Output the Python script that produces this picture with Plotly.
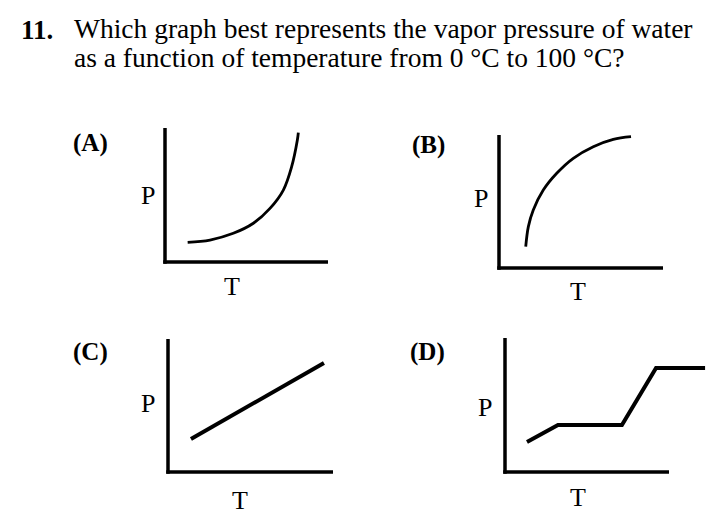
import plotly.graph_objects as go

W, H = 726, 524

# ---- data (T, P in arbitrary 0-100 axis units) ----
a_T = [13.9, 27.6, 41.9, 54.2, 64.4, 72.6, 77.7, 81.2, 81.8]
a_P = [14.7, 16.4, 21.4, 28.9, 40.0, 53.7, 71.1, 91.0, 96.5]
b_T = [16.3, 17.9, 20.9, 27.0, 35.2, 45.3, 57.5, 69.7, 80.5]
b_P = [16.0, 31.1, 43.6, 58.6, 71.2, 82.5, 91.2, 96.7, 98.7]
c_T = [13.9, 94.5]
c_P = [24.8, 82.0]
d_T = [13.4, 32.3, 71.3, 92.1, 122.0]
d_P = [22.4, 35.1, 35.1, 77.6, 77.6]

question_num = "11."
question_lines = ["Which graph best represents the vapor pressure of water",
                  "as a function of temperature from 0 °C to 100 °C?"]
panel_labels = ["(A)", "(B)", "(C)", "(D)"]
x_label = "T"
y_label = "P"

AX_LW = 3.5
FONT = "Liberation Serif, Times New Roman, serif"


def fx(px):
    return px / W


def fy(py):
    return 1 - py / H


# panel boxes in pixels: left, right, top, bottom (axis line centres)
boxes = [(165, 328, 128, 262), (499, 663, 135, 268),
         (168, 333, 339, 472), (505, 669, 338, 472)]
# right edge of plotting area (panel D's line runs past its T axis)
plot_right = [328, 663, 333, 722]

fig = go.Figure()
layout = dict(width=W, height=H, margin=dict(l=0, r=0, t=0, b=0),
              paper_bgcolor="white", plot_bgcolor="rgba(0,0,0,0)",
              showlegend=False)

shapes = []
for i, (l, r, t, b) in enumerate(boxes, start=1):
    pr = plot_right[i - 1]
    xmax = 100 * (pr - l) / (r - l)
    xa = "xaxis" if i == 1 else f"xaxis{i}"
    ya = "yaxis" if i == 1 else f"yaxis{i}"
    xn = "x" if i == 1 else f"x{i}"
    yn = "y" if i == 1 else f"y{i}"
    layout[xa] = dict(domain=[fx(l), fx(pr)], range=[0, xmax], visible=False,
                      anchor=yn, fixedrange=True)
    layout[ya] = dict(domain=[fy(b), fy(t)], range=[0, 100], visible=False,
                      anchor=xn, fixedrange=True)
    # axis lines
    shapes.append(dict(type="line", xref="paper", yref="paper",
                       x0=fx(l), x1=fx(l), y0=fy(t), y1=fy(b + AX_LW / 2),
                       line=dict(color="black", width=AX_LW)))
    shapes.append(dict(type="line", xref="paper", yref="paper",
                       x0=fx(l - AX_LW / 2), x1=fx(r), y0=fy(b), y1=fy(b),
                       line=dict(color="black", width=AX_LW)))

fig.add_trace(go.Scatter(x=a_T, y=a_P, mode="lines", xaxis="x", yaxis="y",
                         line=dict(color="black", width=2.8, shape="spline", smoothing=1.0)))
fig.add_trace(go.Scatter(x=b_T, y=b_P, mode="lines", xaxis="x2", yaxis="y2",
                         line=dict(color="black", width=2.8, shape="spline", smoothing=1.0)))
fig.add_trace(go.Scatter(x=c_T, y=c_P, mode="lines", xaxis="x3", yaxis="y3",
                         line=dict(color="black", width=4)))
fig.add_trace(go.Scatter(x=d_T, y=d_P, mode="lines", xaxis="x4", yaxis="y4",
                         line=dict(color="black", width=4)))

ann = []
ann.append(dict(text=f"<b>{question_num}</b>", x=fx(19), y=fy(29.5), xref="paper", yref="paper",
                xanchor="left", yanchor="middle", showarrow=False,
                font=dict(family=FONT, size=27, color="black")))
for j, line in enumerate(question_lines):
    ann.append(dict(text=line, x=fx(72), y=fy(29 + 28 * j), xref="paper", yref="paper",
                    xanchor="left", yanchor="middle", showarrow=False,
                    font=dict(family=FONT, size=27.5, color="black")))

label_pos = [(90, 143), (428, 145), (90, 352), (427, 352)]
p_pos = [(148, 195), (481, 198), (148, 403), (485, 407)]
t_pos = [(232, 286), (578, 291), (240, 500), (578, 497)]
for k in range(4):
    ann.append(dict(text=f"<b>{panel_labels[k]}</b>", x=fx(label_pos[k][0]), y=fy(label_pos[k][1]),
                    xref="paper", yref="paper", xanchor="center", yanchor="middle",
                    showarrow=False, font=dict(family=FONT, size=25, color="black")))
    ann.append(dict(text=y_label, x=fx(p_pos[k][0]), y=fy(p_pos[k][1]),
                    xref="paper", yref="paper", xanchor="center", yanchor="middle",
                    showarrow=False, font=dict(family=FONT, size=26, color="black")))
    ann.append(dict(text=x_label, x=fx(t_pos[k][0]), y=fy(t_pos[k][1]),
                    xref="paper", yref="paper", xanchor="center", yanchor="middle",
                    showarrow=False, font=dict(family=FONT, size=26, color="black")))

layout["annotations"] = ann
layout["shapes"] = shapes
fig.update_layout(**layout)
fig.write_html("out.html", config={"displayModeBar": False},
               post_script="document.body.style.margin='0px';")
